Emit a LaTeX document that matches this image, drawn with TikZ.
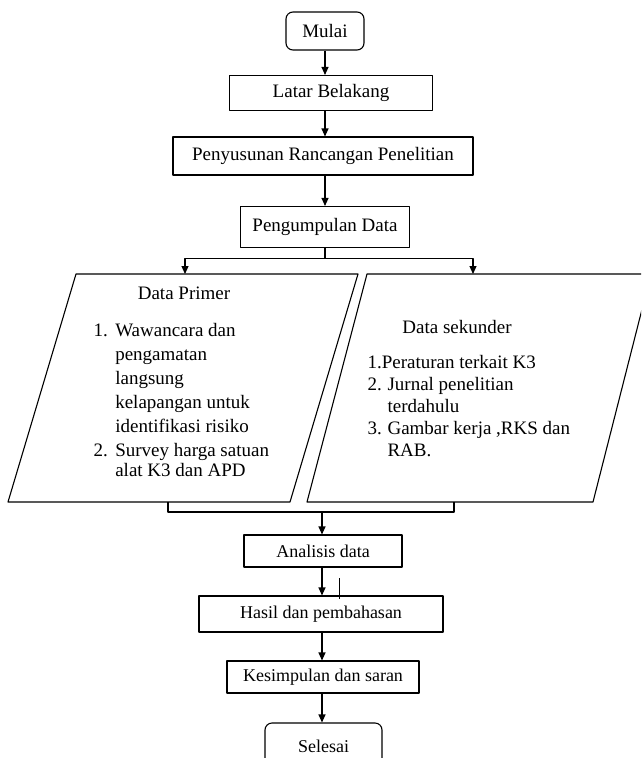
\documentclass[tikz,border=0pt]{standalone}
\usepackage{fontspec}
\setmainfont{Liberation Serif}
\usetikzlibrary{arrows.meta,calc}
\tikzset{
	kotak/.style={draw, rectangle, inner sep=0pt},
	terminal/.style={draw, rectangle, rounded corners=7pt, inner sep=0pt},
	isi/.style={anchor=north west, inner sep=0pt, align=left},
}
\begin{document}
\begin{tikzpicture}[x=1pt, y=-1pt, line width=1.1pt, line join=round, >={Triangle[length=8pt,width=7pt]}, font=\fontsize{19}{24}\selectfont]
	\useasboundingbox (0,0) rectangle (641,758);
	\clip (0,0) rectangle (641,758);
	% alur atas
	\node[terminal, minimum width=78pt, minimum height=38pt] (mulai) at (325,31) {Mulai};
	\node[kotak, minimum width=203pt, minimum height=35pt] (latar) at (331,93) {Latar Belakang};
	\node[kotak, minimum width=300pt, minimum height=38pt] (rancangan) at (323,156) {Penyusunan Rancangan Penelitian};
	\node[kotak, minimum width=169pt, minimum height=41pt] (kumpul) at (325,227) {Pengumpulan Data};
	\draw[->] (mulai.south) -- (mulai.south |- latar.north);
	\draw[->] (mulai.south |- latar.south) -- (mulai.south |- rancangan.north);
	\draw[->] (mulai.south |- rancangan.south) -- (mulai.south |- kumpul.north);
	% data primer dan sekunder
	\coordinate (primer) at (185,274);
	\coordinate (sekunder) at (473,274);
	\draw (kumpul.south) -- ++(0,10) coordinate (cabang);
	\draw[->] (cabang) -| (primer);
	\draw[->] (cabang) -| (sekunder);
	\draw (76,274) -- (358,274) -- (290,502) -- (8,502) -- cycle;
	\draw (367,274) -- (651,274) -- (593,502) -- (307,502) -- cycle;
	\node (judulprimer) at (184,293) {Data Primer};
	\node[isi] (isiprimer) at (93,319) {\begin{tabular}{@{}l@{\hspace{7.5pt}}l@{}}
		1. & Wawancara dan\\
		   & pengamatan\\
		   & langsung\\
		   & kelapangan untuk\\
		   & identifikasi risiko\\
		2. & Survey harga satuan\\[-4pt]
		   & alat K3 dan APD
	\end{tabular}};
	\node (judulsekunder) at (457,327) {Data sekunder};
	\node[isi, font=\fontsize{19}{22}\selectfont] (isisekunder) at (367,353) {\begin{tabular}{@{}l@{\hspace{5.75pt}}l@{}}
		\multicolumn{2}{@{}l@{}}{1.Peraturan terkait K3}\\
		2. & Jurnal penelitian\\
		   & terdahulu\\
		3. & Gambar kerja ,RKS dan\\
		   & RAB.
	\end{tabular}};
	% penggabungan
	\coordinate (gabkiri) at (168,502);
	\coordinate (gabkanan) at (454,502);
	\draw (gabkiri) -- ++(0,10) -| (gabkanan);
	\coordinate (gabung) at (322,512);
	% alur bawah
	\begin{scope}[font=\fontsize{18}{22}\selectfont]
		\node[kotak, minimum width=158pt, minimum height=32pt] (analisis) at (323,551) {Analisis data};
		\node[kotak, minimum width=244pt, minimum height=36pt] (hasil) at (321,614) {Hasil dan pembahasan};
		\node[kotak, minimum width=192pt, minimum height=32pt] (simpulan) at (323,677) {Kesimpulan dan saran};
		\node[terminal, minimum width=117pt, minimum height=46pt] (selesai) at (323.5,746) {Selesai};
	\end{scope}
	\draw[->] (gabung) -- (gabung |- analisis.north);
	\draw[->] (gabung |- analisis.south) -- (gabung |- hasil.north);
	\draw[->] (gabung |- hasil.south) -- (gabung |- simpulan.north);
	\draw[->] (gabung |- simpulan.south) -- (gabung |- selesai.north);
	\draw[line width=0.8pt] (339,578) -- (339,599);
\end{tikzpicture}
\end{document}
